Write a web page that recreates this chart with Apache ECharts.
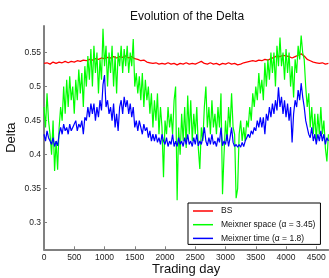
<!DOCTYPE html>
<html>
<head>
<meta charset="utf-8">
<script src="https://cdn.jsdelivr.net/npm/echarts@6/dist/echarts.min.js"></script>
<style>
  html, body { margin: 0; padding: 0; background: #fff; }
  #chart { width: 329px; height: 278px; }
</style>
</head>
<body>
<div id="chart"></div>
<script>
// sampling step (trading days) of each series
var bsStep = 50;
var meixStep = 25;

// BS delta, one value every 50 days (0..4700)
var bsDelta = [
  0.534, 0.535, 0.533, 0.536, 0.534, 0.536, 0.535, 0.537, 0.535, 0.537,
  0.536, 0.538, 0.537, 0.539, 0.538, 0.540, 0.539, 0.541, 0.540, 0.542,
  0.541, 0.543, 0.542, 0.544, 0.542, 0.544, 0.543, 0.545, 0.542, 0.544,
  0.541, 0.540, 0.538, 0.539, 0.536, 0.535, 0.534, 0.535, 0.533, 0.534,
  0.533, 0.535, 0.533, 0.534, 0.532, 0.534, 0.533, 0.535, 0.533, 0.534,
  0.533, 0.535, 0.537, 0.534, 0.533, 0.535, 0.533, 0.534, 0.532, 0.534,
  0.533, 0.535, 0.533, 0.534, 0.532, 0.533, 0.535, 0.536, 0.537, 0.538,
  0.537, 0.539, 0.538, 0.540, 0.539, 0.541, 0.543, 0.545, 0.544, 0.546,
  0.545, 0.544, 0.542, 0.544, 0.546, 0.548, 0.545, 0.540, 0.538, 0.536,
  0.535, 0.534, 0.535, 0.533, 0.534
];

// Meixner space delta, one value every 25 days (0..4700)
var spaceDelta = [
  0.47, 0.44, 0.49, 0.45,  0.43, 0.40, 0.45, 0.376,  0.42, 0.378, 0.44, 0.47,
  0.45, 0.50, 0.46, 0.51,  0.47, 0.515, 0.48, 0.50,  0.46, 0.51, 0.48, 0.525,
  0.49, 0.52, 0.47, 0.53,  0.50, 0.545, 0.51, 0.555,  0.50, 0.56, 0.52, 0.55,
  0.49, 0.54, 0.51, 0.585,  0.53, 0.56, 0.50, 0.55,  0.52, 0.56, 0.50, 0.545,
  0.49, 0.55, 0.53, 0.56,  0.52, 0.555, 0.53, 0.56,  0.52, 0.55, 0.53, 0.57,
  0.50, 0.52, 0.49, 0.515,  0.48, 0.52, 0.47, 0.51,  0.48, 0.50, 0.46, 0.49,
  0.44, 0.48, 0.45, 0.49,  0.43, 0.47, 0.44, 0.367,  0.45, 0.43, 0.47, 0.44,
  0.46, 0.43, 0.48, 0.50,  0.333, 0.44, 0.40, 0.46,  0.42, 0.47, 0.41, 0.487,
  0.43, 0.48, 0.42, 0.46,  0.43, 0.47, 0.41, 0.379,  0.44, 0.42, 0.47, 0.50,
  0.44, 0.47, 0.43, 0.48,  0.44, 0.46, 0.43, 0.47,  0.44, 0.49, 0.342, 0.40,
  0.45, 0.42, 0.47, 0.44,  0.49, 0.44, 0.43, 0.336,  0.35, 0.43, 0.45, 0.42,
  0.44, 0.42, 0.45, 0.44,  0.47, 0.45, 0.49, 0.47,  0.50, 0.48, 0.52, 0.49,
  0.51, 0.48, 0.535, 0.50,  0.54, 0.51, 0.55, 0.52,  0.55, 0.50, 0.56, 0.53,
  0.572, 0.53, 0.55, 0.51,  0.555, 0.52, 0.55, 0.50,  0.53, 0.484, 0.54, 0.52,
  0.56, 0.54, 0.575, 0.55,  0.54, 0.50, 0.47, 0.49,  0.44, 0.47, 0.43, 0.46,
  0.42, 0.46, 0.43, 0.47,  0.43, 0.45, 0.41, 0.39,  0.43
];

// Meixner time delta, one value every 25 days (0..4700)
var timeDelta = [
  0.43, 0.42, 0.435, 0.425,  0.42, 0.415, 0.425, 0.412,  0.42, 0.413, 0.43, 0.44,
  0.43, 0.445, 0.435, 0.44,  0.43, 0.445, 0.435, 0.44,  0.44, 0.45, 0.435, 0.445,
  0.44, 0.45, 0.43, 0.455,  0.45, 0.47, 0.455, 0.475,  0.46, 0.475, 0.45, 0.47,
  0.455, 0.48, 0.465, 0.503,  0.517, 0.47, 0.48, 0.46,  0.47, 0.45, 0.475, 0.44,
  0.46, 0.435, 0.47, 0.48,  0.46, 0.485, 0.47, 0.48,  0.46, 0.475, 0.455, 0.47,
  0.44, 0.45, 0.435, 0.45,  0.44, 0.43, 0.445, 0.435,  0.44, 0.425, 0.435, 0.42,
  0.43, 0.42, 0.43, 0.418,  0.425, 0.415, 0.43, 0.42,  0.415, 0.425, 0.412, 0.42,
  0.415, 0.43, 0.412, 0.42,  0.412, 0.425, 0.415, 0.42,  0.412, 0.425, 0.415, 0.43,
  0.415, 0.42, 0.412, 0.425,  0.415, 0.43, 0.413, 0.42,  0.415, 0.425, 0.44, 0.42,
  0.413, 0.425, 0.415, 0.43,  0.415, 0.42, 0.412, 0.425,  0.418, 0.44, 0.413, 0.42,
  0.415, 0.43, 0.412, 0.425,  0.44, 0.418, 0.412, 0.415,  0.411, 0.415, 0.411, 0.418,
  0.412, 0.42, 0.425, 0.43,  0.425, 0.435, 0.43, 0.44,  0.435, 0.45, 0.44, 0.455,
  0.44, 0.455, 0.43, 0.46,  0.45, 0.47, 0.455, 0.475,  0.46, 0.48, 0.465, 0.499,
  0.47, 0.485, 0.46, 0.48,  0.455, 0.475, 0.45, 0.47,  0.418, 0.46, 0.48, 0.47,
  0.495, 0.48, 0.505, 0.485,  0.47, 0.45, 0.44, 0.43,  0.425, 0.44, 0.42, 0.43,
  0.415, 0.43, 0.42, 0.435,  0.42, 0.43, 0.415, 0.425,  0.42
];

var xTicks = [0, 500, 1000, 1500, 2000, 2500, 3000, 3500, 4000, 4500];
var yTicks = [0.3, 0.35, 0.4, 0.45, 0.5, 0.55];
var seriesNames = ['BS', 'Meixner space (\u03b1 = 3.45)', 'Meixner time (\u03b1 = 1.8)'];

function toPairs(vals, step) {
  var out = [];
  for (var i = 0; i < vals.length; i++) {
    out.push([i * step, vals[i]]);
  }
  return out;
}

var font = '"Liberation Sans", Arial, sans-serif';
var chart = echarts.init(document.getElementById('chart'));

var option = {
  animation: false,
  backgroundColor: '#fff',
  title: {
    text: 'Evolution of the Delta',
    left: 125,
    top: 6,
    textStyle: { fontFamily: font, fontSize: 12, fontWeight: 'normal', color: '#111' }
  },
  legend: {
    orient: 'vertical',
    left: 188,
    top: 203,
    padding: [3, 5, 1, 5],
    itemGap: 3.7,
    itemWidth: 20,
    itemHeight: 1.5,
    icon: 'rect',
    borderColor: '#000',
    borderWidth: 1,
    backgroundColor: '#fff',
    data: seriesNames,
    textStyle: { fontFamily: font, fontSize: 8.5, color: '#111', lineHeight: 10, padding: [0, 0, 0, 3] }
  },
  grid: { left: 44, right: 0.6, top: 26, bottom: 28.7, containLabel: false, outerBoundsMode: 'none' },
  xAxis: {
    type: 'value',
    min: 0,
    max: 4700,
    name: 'Trading day',
    nameLocation: 'middle',
    nameGap: 14,
    nameMoveOverlap: false,
    nameTextStyle: { fontFamily: font, fontSize: 13, color: '#111' },
    axisLine: { show: true, lineStyle: { color: '#808080', width: 2 } },
    axisTick: { inside: true, length: 3, lineStyle: { color: '#808080' }, customValues: xTicks },
    axisLabel: {
      fontFamily: font, fontSize: 8.5, color: '#222', margin: 4, customValues: xTicks,
      formatter: function(v) { return String(v); }
    },
    splitLine: { show: false }
  },
  yAxis: {
    type: 'value',
    min: 0.261,
    max: 0.589,
    name: 'Delta',
    nameLocation: 'middle',
    nameGap: 26,
    nameMoveOverlap: false,
    nameTextStyle: { fontFamily: font, fontSize: 13, color: '#111' },
    axisLine: { show: true, lineStyle: { color: '#808080', width: 2 } },
    axisTick: { inside: true, length: 3, lineStyle: { color: '#808080' }, customValues: yTicks },
    axisLabel: {
      fontFamily: font, fontSize: 8.5, color: '#222', margin: 3, customValues: yTicks,
      formatter: function(v) { return String(+v.toFixed(2)); }
    },
    splitLine: { show: false }
  },
  series: [{
    name: seriesNames[0],
    type: 'line',
    symbol: 'none',
    color: '#ff0000',
    lineStyle: { width: 1.3 },
    data: toPairs(bsDelta, bsStep)
  }, {
    name: seriesNames[1],
    type: 'line',
    symbol: 'none',
    color: '#00ff00',
    lineStyle: { width: 1.2 },
    data: toPairs(spaceDelta, meixStep)
  }, {
    name: seriesNames[2],
    type: 'line',
    symbol: 'none',
    color: '#0000ff',
    lineStyle: { width: 1.2 },
    data: toPairs(timeDelta, meixStep)
  }]
};

chart.setOption(option);
</script>
</body>
</html>
